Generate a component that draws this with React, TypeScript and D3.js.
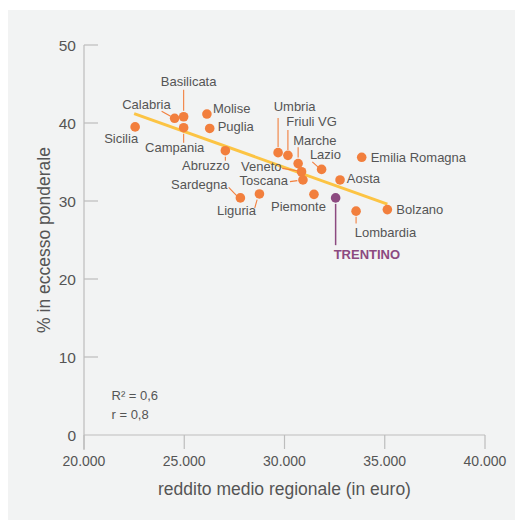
import React from "react";
import * as d3 from "d3";

const regions = ["Sicilia","Calabria","Basilicata","Campania","Molise","Puglia","Abruzzo","Sardegna","Liguria","Umbria","Friuli VG","Marche","Lazio","Veneto","Toscana","Piemonte","TRENTINO","Aosta","Emilia Romagna","Lombardia","Bolzano"];
const reddito = [22550,24520,24970,24970,26130,26270,27050,27800,28750,29680,30170,30680,31850,30850,30920,31470,32550,32770,33850,33570,35130];
const eccesso = [39.5,40.6,40.8,39.4,41.15,39.3,36.45,30.4,30.9,36.2,35.85,34.8,34.05,33.75,32.7,30.85,30.4,32.7,35.6,28.7,28.9];
const highlight = "TRENTINO";

const trendX = [22500, 35130];
const trendY = [41.2, 29.6];

const xTicks = [20000, 25000, 30000, 35000, 40000];
const yTicks = [0, 10, 20, 30, 40, 50];
const statsLines = ["R² = 0,6", "r = 0,8"];

type Lay = { dx: number; dy: number; anchor: string; leader?: number[] };
const labelLayout: Record<string, Lay> = {
  "Sicilia": { dx: 3, dy: 16, anchor: "end" },
  "Calabria": { dx: -4, dy: -9, anchor: "end", leader: [-13, -7, -4, -2] },
  "Basilicata": { dx: 5, dy: -31, anchor: "middle", leader: [0, -6, 0, -27] },
  "Campania": { dx: -9, dy: 24, anchor: "middle", leader: [0, 6, 0, 15] },
  "Molise": { dx: 6, dy: -1, anchor: "start" },
  "Puglia": { dx: 8, dy: 3, anchor: "start" },
  "Abruzzo": { dx: -19.5, dy: 19, anchor: "middle", leader: [0, 6, 0, 10] },
  "Sardegna": { dx: -13, dy: -8.5, anchor: "end", leader: [-11.7, -10.4, -3.3, -1.7] },
  "Liguria": { dx: -23, dy: 21.5, anchor: "middle", leader: [-2.3, 5.7, -4.7, 14] },
  "Umbria": { dx: -4.4, dy: -41.7, anchor: "start", leader: [0, -34.7, 0, -5.7] },
  "Friuli VG": { dx: -1.6, dy: -29.3, anchor: "start", leader: [0, -25.3, 0, -5.3] },
  "Marche": { dx: -5, dy: -18.3, anchor: "start", leader: [0, -16.3, 0, -6] },
  "Lazio": { dx: -11.7, dy: -10, anchor: "start", leader: [-9.3, -7.6, -2, -1] },
  "Veneto": { dx: -20, dy: -1, anchor: "end", leader: [-19.3, -3.4, -2.7, -0.7] },
  "Toscana": { dx: -15, dy: 5.5, anchor: "end", leader: [-13, 1.7, -5.6, 0.7] },
  "Piemonte": { dx: -15.5, dy: 16.7, anchor: "middle" },
  "TRENTINO": { dx: -2, dy: 61.6, anchor: "start", leader: [0, 6, 0, 47.3] },
  "Aosta": { dx: 6.7, dy: 3.3, anchor: "start" },
  "Emilia Romagna": { dx: 9, dy: 4.4, anchor: "start" },
  "Lombardia": { dx: -1.3, dy: 26.3, anchor: "start", leader: [0, 5.7, 0, 12.3] },
  "Bolzano": { dx: 9, dy: 4.7, anchor: "start" },
};

const W = 515, H = 520;
const FONT = "'Liberation Sans', Arial, sans-serif";
const TEXT = "#555555";
const AXIS = "#bdbdbd";
const ORANGE = "#f27f3d";
const PURPLE = "#8c4a80";
const TREND = "#fcc444";

export default function App() {
  const x = d3.scaleLinear().domain([20000, 40000]).range([84, 485]);
  const y = d3.scaleLinear().domain([0, 50]).range([435, 45]);
  const fmt = (v: number) => d3.format(",")(v).replace(/,/g, ".");
  const line = d3.line<number>().x((_, i) => x(trendX[i])).y((d) => y(d));

  return (
    <svg width={W} height={H} style={{ position: "absolute", left: 0, top: 0 }} fontFamily={FONT}>
      <rect x={8} y={10} width={W - 8} height={H - 10} fill="#f2f3f3" />
      <line x1={x(20000)} x2={x(20000)} y1={y(50)} y2={y(0) + 15} stroke={AXIS} strokeWidth={1.2} />
      <line x1={x(20000)} x2={x(40000)} y1={y(0)} y2={y(0)} stroke={AXIS} strokeWidth={1.2} />
      {yTicks.map((t) => (
        <g key={"y" + t}>
          {t > 0 && <line x1={x(20000)} x2={x(20000) + 14} y1={y(t)} y2={y(t)} stroke={AXIS} strokeWidth={1.2} />}
          <text x={76} y={y(t) + 5.5} textAnchor="end" fontSize={15.5} fill={TEXT}>{t}</text>
        </g>
      ))}
      {xTicks.map((t) => (
        <g key={"x" + t}>
          <line x1={x(t)} x2={x(t)} y1={y(0)} y2={y(0) + 14} stroke={AXIS} strokeWidth={1.2} />
          <text x={x(t)} y={466} textAnchor="middle" fontSize={14} fill={TEXT}>{fmt(t)}</text>
        </g>
      ))}
      <text x={(x(20000) + x(40000)) / 2} y={495} textAnchor="middle" fontSize={17.5} fill={TEXT}>reddito medio regionale (in euro)</text>
      <text transform={`translate(50,${(y(0) + y(50)) / 2}) rotate(-90)`} textAnchor="middle" fontSize={17.5} fill={TEXT}>% in eccesso ponderale</text>
      {statsLines.map((s, i) => (
        <text key={s} x={111.5} y={400 + i * 19} fontSize={13} fill={TEXT}>{s}</text>
      ))}
      <path d={line(trendY) || ""} stroke={TREND} strokeWidth={3} fill="none" />
      {regions.map((r, i) => {
        const cx = x(reddito[i]);
        const cy = y(eccesso[i]);
        const L = labelLayout[r];
        const isH = r === highlight;
        const col = isH ? PURPLE : ORANGE;
        return (
          <g key={r}>
            {L.leader && (
              <line x1={cx + L.leader[0]} y1={cy + L.leader[1]} x2={cx + L.leader[2]} y2={cy + L.leader[3]} stroke={col} strokeWidth={isH ? 1.5 : 1.1} />
            )}
            <circle cx={cx} cy={cy} r={4.8} fill={col} />
            <text x={cx + L.dx} y={cy + L.dy} textAnchor={L.anchor as any} fontSize={13} fill={isH ? PURPLE : TEXT} fontWeight={isH ? "bold" : "normal"}>{r}</text>
          </g>
        );
      })}
    </svg>
  );
}
